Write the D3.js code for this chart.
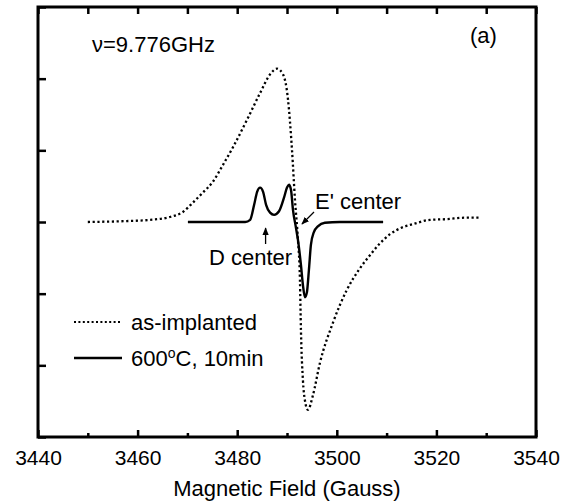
<!DOCTYPE html>
<html>
<head>
<meta charset="utf-8">
<script src="https://cdn.jsdelivr.net/npm/d3@7"></script>
<style>
  body { margin: 0; background: #fff; }
  text { font-family: "Liberation Sans", Arial, sans-serif; fill: #000; }
</style>
</head>
<body>
<svg id="chart" width="574" height="504"></svg>
<script>
// as-implanted spectrum (dotted)
let implantedField = [3450, 3456.5, 3462.5, 3466.5, 3469.1, 3471.1, 3473.1, 3475.1, 3477.0, 3479.2, 3482.0, 3484.6, 3486.6, 3488.0, 3489.2, 3490.2, 3491.0, 3491.6, 3492.2, 3492.6, 3492.8, 3493.2, 3493.6, 3494.2, 3495.2, 3496.6, 3499.2, 3502.0, 3504.5, 3506.7, 3508.5, 3510.7, 3513.0, 3515.3, 3518.7, 3522.1, 3525.7, 3528.8]
let implantedSignal = [0, 0.01, 0.03, 0.07, 0.14, 0.27, 0.41, 0.56, 0.78, 1.05, 1.43, 1.80, 2.06, 2.14, 2.06, 1.71, 1.01, 0.31, -0.25, -0.81, -1.51, -2.21, -2.49, -2.62, -2.42, -1.97, -1.41, -0.95, -0.66, -0.46, -0.31, -0.17, -0.08, -0.03, 0.03, 0.04, 0.06, 0.06]

// 600C, 10min spectrum (solid)
let annealedField = [3470.1, 3481.6, 3482.6, 3483.4, 3484.0, 3484.6, 3485.2, 3485.8, 3486.6, 3487.4, 3488.4, 3489.4, 3490.0, 3490.4, 3490.8, 3491.2, 3491.8, 3492.2, 3492.8, 3493.2, 3493.6, 3494.0, 3494.4, 3494.8, 3495.4, 3496.2, 3497.6, 3500.6, 3509.3]
let annealedSignal = [0, 0, 0.03, 0.24, 0.42, 0.48, 0.42, 0.24, 0.13, 0.10, 0.15, 0.34, 0.48, 0.52, 0.45, 0.17, -0.08, -0.25, -0.60, -0.88, -1.05, -0.98, -0.67, -0.32, -0.14, -0.06, -0.01, 0, 0]

let xTicks = [3440, 3460, 3480, 3500, 3520, 3540]
let xMinorTicks = [3450, 3470, 3490, 3510, 3530]
let yTicks = [-3, -2, -1, 0, 1, 2, 3]

const svg = d3.select("#chart")
const m = {left: 38, right: 536, top: 7, bottom: 437}

const x = d3.scaleLinear().domain([3440, 3540]).range([m.left, m.right])
const y = d3.scaleLinear().domain([-3, 3]).range([m.bottom, m.top])

// bottom axis: major labelled ticks, minor short ticks, all pointing in
svg.append("g")
  .attr("transform", `translate(0,${m.bottom})`)
  .call(d3.axisBottom(x).tickValues(xTicks).tickSize(-7).tickPadding(13).tickFormat(d3.format("d")))
  .call(g => g.select(".domain").remove())
  .call(g => g.selectAll("line").attr("stroke", "#000").attr("stroke-width", 2.5))
  .call(g => g.selectAll("text").attr("font-size", 21).attr("font-family", "Liberation Sans, Arial, sans-serif").attr("fill", "#000"))

svg.append("g")
  .attr("transform", `translate(0,${m.bottom})`)
  .call(d3.axisBottom(x).tickValues(xMinorTicks).tickSize(-4).tickFormat(""))
  .call(g => g.select(".domain").remove())
  .call(g => g.selectAll("line").attr("stroke", "#000").attr("stroke-width", 2.5))

// top axis ticks every 10 G
svg.append("g")
  .attr("transform", `translate(0,${m.top})`)
  .call(d3.axisTop(x).tickValues(xTicks.concat(xMinorTicks)).tickSize(-7).tickFormat(""))
  .call(g => g.select(".domain").remove())
  .call(g => g.selectAll("line").attr("stroke", "#000").attr("stroke-width", 2.5))

// left axis ticks, no labels
svg.append("g")
  .attr("transform", `translate(${m.left},0)`)
  .call(d3.axisLeft(y).tickValues(yTicks).tickSize(-8).tickFormat(""))
  .call(g => g.select(".domain").remove())
  .call(g => g.selectAll("line").attr("stroke", "#000").attr("stroke-width", 2.5))

// frame
svg.append("rect")
  .attr("x", m.left).attr("y", m.top)
  .attr("width", m.right - m.left).attr("height", m.bottom - m.top)
  .attr("fill", "none").attr("stroke", "#000").attr("stroke-width", 3)

const line = d3.line()
  .x(d => x(d[0]))
  .y(d => y(d[1]))
  .curve(d3.curveMonotoneX)

svg.append("path")
  .datum(d3.zip(implantedField, implantedSignal))
  .attr("d", line)
  .attr("fill", "none").attr("stroke", "#000")
  .attr("stroke-width", 2.3).attr("stroke-dasharray", "2.2,2.6")

svg.append("path")
  .datum(d3.zip(annealedField, annealedSignal))
  .attr("d", line)
  .attr("fill", "none").attr("stroke", "#000")
  .attr("stroke-width", 2.4)

// arrow marker
svg.append("defs").append("marker")
  .attr("id", "head")
  .attr("viewBox", "0 0 10 10").attr("refX", 9).attr("refY", 5)
  .attr("markerWidth", 6).attr("markerHeight", 6)
  .attr("orient", "auto")
  .append("path").attr("d", "M0,1 L10,5 L0,9 Z").attr("fill", "#000")

// D center arrow
svg.append("line")
  .attr("x1", x(3485.7)).attr("y1", 244).attr("x2", x(3485.7)).attr("y2", 228)
  .attr("stroke", "#000").attr("stroke-width", 1.3).attr("marker-end", "url(#head)")
svg.append("text").attr("x", 209).attr("y", 265).attr("font-size", 22).text("D center")

// E' center arrow
svg.append("line")
  .attr("x1", 314).attr("y1", 212).attr("x2", 302).attr("y2", 224)
  .attr("stroke", "#000").attr("stroke-width", 1.3).attr("marker-end", "url(#head)")
svg.append("text").attr("x", 315).attr("y", 209).attr("font-size", 22).text("E' center")

// labels
svg.append("text").attr("x", 92).attr("y", 52).attr("font-size", 22).text("ν=9.776GHz")
svg.append("text").attr("x", 470).attr("y", 43).attr("font-size", 22).text("(a)")

// legend
const legend = svg.append("g")
legend.append("line").attr("x1", 74).attr("x2", 122).attr("y1", 322).attr("y2", 322)
  .attr("stroke", "#000").attr("stroke-width", 2).attr("stroke-dasharray", "2,2.4")
legend.append("text").attr("x", 131).attr("y", 330).attr("font-size", 22).text("as-implanted")
legend.append("line").attr("x1", 74).attr("x2", 122).attr("y1", 358).attr("y2", 358)
  .attr("stroke", "#000").attr("stroke-width", 2.4)
const t2 = legend.append("text").attr("x", 131).attr("y", 366).attr("font-size", 22)
t2.append("tspan").text("600")
t2.append("tspan").attr("dy", -8).attr("font-size", 14).text("o")
t2.append("tspan").attr("dy", 8).text("C, 10min")

// axis title
svg.append("text")
  .attr("x", (m.left + m.right) / 2).attr("y", 496)
  .attr("text-anchor", "middle").attr("font-size", 22)
  .text("Magnetic Field (Gauss)")
</script>
</body>
</html>
